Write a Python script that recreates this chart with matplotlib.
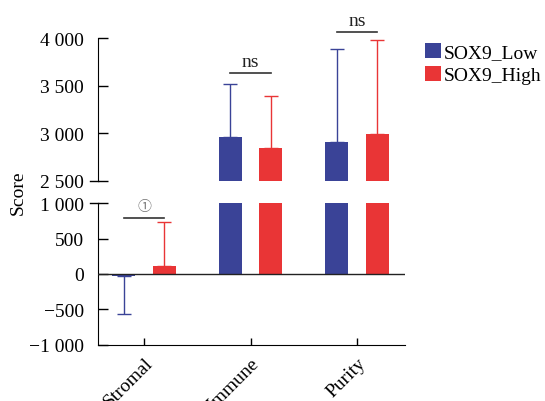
import matplotlib
matplotlib.use('Agg')
import matplotlib.pyplot as plt
from matplotlib.ticker import FuncFormatter
import numpy as np

plt.rcParams['font.family'] = ['Liberation Serif', 'DejaVu Sans']
plt.rcParams['font.size'] = 14

categories = ['Stromal', 'Immune', 'Purity']
series = ['SOX9_Low', 'SOX9_High']
low_mean = [-23, 2960, 2904]
low_err_end = [-560, 3518, 3887]
high_mean = [119, 2844, 2992]
high_err_end = [737, 3392, 3985]
sig_labels = ['\u2460', 'ns', 'ns']
sig_heights = [796, 3631, 4070]

colors = ['#3a4397', '#e93536']
W, H = 545, 402
fig = plt.figure(figsize=(W / 100, H / 100), dpi=100)

left = 98 / W
width = (405 - 98) / W
ax_top = fig.add_axes([left, 1 - 181.7 / H, width, 142.4 / H])
ax_bot = fig.add_axes([left, 1 - 345.7 / H, width, 141.4 / H])

x = np.arange(len(categories))
off = 0.19
bw = 0.216


def fmt(v, pos):
    s = '{:,.0f}'.format(abs(v)).replace(',', ' ')
    return ('\u2212' + s) if v < 0 else s


for ax in (ax_top, ax_bot):
    for i, (means, ends) in enumerate([(low_mean, low_err_end), (high_mean, high_err_end)]):
        xs = x + (i * 2 - 1) * off
        ax.bar(xs, means, width=bw, color=colors[i], zorder=2, label=series[i])
        m = np.array(means)
        e = np.array(ends)
        lower = np.where(m < 0, m - e, 0)
        upper = np.where(m >= 0, e - m, 0)
        ax.errorbar(xs, m, yerr=[lower, upper], fmt='none', ecolor=colors[i],
                    elinewidth=1, capsize=5, capthick=1, zorder=1)
    ax.set_xlim(-0.432, 2.45)
    ax.spines['right'].set_visible(False)
    ax.spines['top'].set_visible(False)
    ax.yaxis.set_major_formatter(FuncFormatter(fmt))
    ax.tick_params(axis='y', direction='in', length=7, width=1, labelsize=14, pad=10)
    ax.tick_params(axis='x', direction='in', length=5, width=1, labelsize=14, pad=7)

ax_top.set_ylim(2500, 4000)
ax_top.set_yticks([2500, 3000, 3500, 4000])
ax_top.spines['bottom'].set_visible(False)
ax_top.tick_params(axis='x', bottom=False, labelbottom=False)

ax_bot.set_ylim(-1000, 1000)
ax_bot.set_yticks([-1000, -500, 0, 500, 1000])
ax_bot.axhline(0, color='#222222', lw=1, zorder=3)
ax_bot.set_xticks(x)
ax_bot.set_xticklabels(categories, rotation=45, ha='right', va='top', rotation_mode='anchor')

# break marks on the left spine
ax_top.plot([-0.026, 0], [0, 0], transform=ax_top.transAxes, color='black', lw=1, clip_on=False)
ax_bot.plot([-0.026, 0], [1, 1], transform=ax_bot.transAxes, color='black', lw=1, clip_on=False)

# significance brackets
for i, (lab, h) in enumerate(zip(sig_labels, sig_heights)):
    ax = ax_bot if i == 0 else ax_top
    ax.plot([x[i] - off, x[i] + off], [h, h], color='#333333', lw=1.2, clip_on=False)
    if i == 0:
        ax.text(x[i], h + 60, lab, ha='center', va='bottom', fontsize=10, color='#777777',
                family=['Noto Sans CJK SC', 'DejaVu Sans'])
    else:
        ax.text(x[i], h + 30, lab, ha='center', va='bottom', fontsize=14, color='#222222')

fig.text(18 / W, 1 - 193 / H, 'Score', rotation=90, ha='center', va='center', fontsize=14)

handles, labels = ax_bot.get_legend_handles_labels()
fig.legend(handles, labels, loc='upper left', bbox_to_anchor=(425 / W, 1 - 44 / H),
           frameon=False, fontsize=14, handlelength=0.8, handleheight=0.8,
           handletextpad=0.15, labelspacing=0.25, borderpad=0, borderaxespad=0)

fig.savefig('out.png', dpi=100)
